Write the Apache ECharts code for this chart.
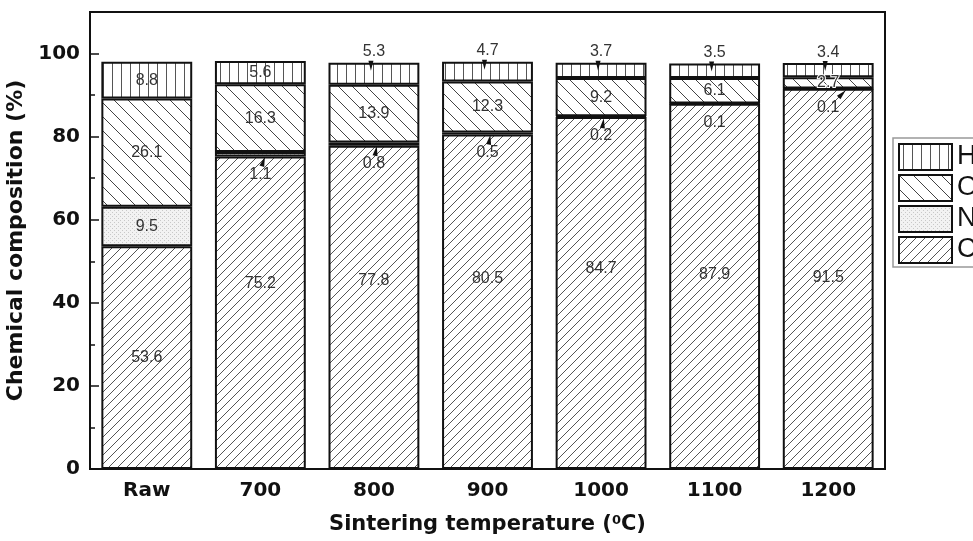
<!DOCTYPE html>
<html><head><meta charset="utf-8">
<script src="https://cdn.jsdelivr.net/npm/echarts@6/dist/echarts.min.js"></script>
<style>html,body{margin:0;padding:0;background:#fff}#c{width:973px;height:541px}</style>
</head><body><div id="c"></div>
<script>
// ---- data ----
const categories = ['Raw', '700', '800', '900', '1000', '1100', '1200'];
const C = [53.6, 75.2, 77.8, 80.5, 84.7, 87.9, 91.5];
const N = [9.5, 1.1, 0.8, 0.5, 0.2, 0.1, 0.1];
const O = [26.1, 16.3, 13.9, 12.3, 9.2, 6.1, 2.7];
const H = [8.8, 5.6, 5.3, 4.7, 3.7, 3.5, 3.4];
const yMax = 110, yStep = 20;

// ---- styling helpers ----
function pat(w, h, draw, bg) {
  const c = document.createElement('canvas'); c.width = w; c.height = h;
  const g = c.getContext('2d'); g.fillStyle = bg || '#fff'; g.fillRect(0, 0, w, h);
  draw(g, w, h); return { image: c, repeat: 'repeat' };
}
const patC = pat(9, 9, (g, w, h) => { g.strokeStyle = '#555'; g.lineWidth = 1; g.beginPath();
  g.moveTo(0, h); g.lineTo(w, 0); g.moveTo(-1, 1); g.lineTo(1, -1); g.moveTo(w - 1, h + 1); g.lineTo(w + 1, h - 1); g.stroke(); });
const patO = pat(14, 14, (g, w, h) => { g.strokeStyle = '#444'; g.lineWidth = 1; g.beginPath();
  g.moveTo(0, 0); g.lineTo(w, h); g.moveTo(-1, h - 1); g.lineTo(1, h + 1); g.moveTo(w - 1, -1); g.lineTo(w + 1, 1); g.stroke(); });
const patH = pat(9, 2, (g) => { g.fillStyle = '#555'; g.fillRect(4, 0, 1, 2); });
const patN = pat(4, 4, (g) => { g.fillStyle = '#c8c8c8'; g.fillRect(0, 0, 1, 1); g.fillRect(2, 2, 1, 1); }, '#f2f2f2');

const labelFont = { fontFamily: 'Liberation Sans, Arial', fontSize: 16, color: '#333', textBorderWidth: 0 };
const axisFont = { fontFamily: 'DejaVu Sans', fontWeight: 'bold', fontSize: 20, color: '#111' };
const border = { borderColor: '#111', borderWidth: 2 };

const cLabelDy = [0, -29, -27, -23, -24, -12, -1];
const cData = C.map((v, i) => ({ value: v, label: { offset: [0, cLabelDy[i]] } }));
const nData = N.map((v, i) => i === 0 ? { value: v } : { value: v, label: { position: 'bottom', distance: 10 } });
const oData = O.map((v, i) => i === 6 ? { value: v, label: { textBorderColor: '#fff', textBorderWidth: 2 } } : { value: v });
const hData = H.map((v, i) => i < 2 ? { value: v } : { value: v, label: { position: 'top', distance: 3 } });

const arrowPath = 'path://M5,0 L10,14 L0,14 Z';
const arrows = [];
[[1, 3, 5, -18], [2, 2, 5, -10], [3, 2, 5, -10], [4, 2, 6, -8], [6, 14, 5, -45]].forEach(([i, dx, dy, r]) => {
  arrows.push({ coord: [categories[i], C[i]], symbolOffset: [dx, dy], symbolRotate: r });
});
[2, 3, 4, 5, 6].forEach(i => {
  arrows.push({ coord: [categories[i], C[i] + N[i] + O[i] + H[i]], symbolOffset: [-3, 3], symbolRotate: 180 });
});

const mk = (name, data, color, z) => ({
  name, type: 'bar', stack: 'total', data, barWidth: '80%', z,
  itemStyle: Object.assign({ color }, border),
  label: Object.assign({ show: true, position: 'inside' }, labelFont),
  emphasis: { disabled: true }
});

const series = [mk('C', cData, patC, 2), mk('N', nData, patN, 3), mk('O', oData, patO, 4), mk('H', hData, patH, 3)];
series[3].markPoint = {
  symbol: arrowPath, symbolSize: [5, 10], silent: true, animation: false, z: 6,
  itemStyle: { color: '#111' }, label: { show: false }, data: arrows
};

const chart = echarts.init(document.getElementById('c'));
chart.setOption({
  animation: false,
  backgroundColor: '#fff',
  grid: { left: 90, top: 12, right: 88, bottom: 72, outerBoundsMode: 'none', containLabel: false,
    show: true, borderColor: '#111', borderWidth: 2, backgroundColor: 'transparent' },
  legend: {
    data: ['H', 'O', 'N', 'C'], orient: 'vertical', left: 893, top: 138,
    itemWidth: 53, itemHeight: 26, itemGap: 3, icon: 'rect',
    padding: [5, 40, 3, 5], borderColor: '#999', borderWidth: 1.5,
    textStyle: { fontFamily: 'Liberation Sans, Arial', fontSize: 27, color: '#111' },
    selectedMode: false
  },
  xAxis: [{
    type: 'category', data: categories, position: 'bottom',
    axisLine: { lineStyle: { color: '#111', width: 2 } },
    axisTick: { inside: true, alignWithLabel: true, length: 8, lineStyle: { color: '#111', width: 1.5 } },
    axisLabel: Object.assign({ margin: 12 }, axisFont),
    name: 'Sintering temperature ({s|0}C)', nameLocation: 'middle', nameGap: 45,
    nameTextStyle: { fontFamily: 'DejaVu Sans', fontWeight: 'bold', fontSize: 21, color: '#111',
      rich: { s: { fontFamily: 'DejaVu Sans', fontWeight: 'bold', fontSize: 13, color: '#111', verticalAlign: 'top', padding: [0, 0, 9, 0] } } }
  }, {
    type: 'category', data: categories, position: 'bottom', gridIndex: 0,
    axisLine: { show: false }, axisLabel: { show: false }, splitLine: { show: false },
    axisTick: { inside: true, length: 4, lineStyle: { color: '#111', width: 1.5 } }
  }],
  yAxis: [{
    type: 'value', min: 0, max: yMax, interval: yStep, position: 'left',
    axisLine: { show: true, lineStyle: { color: '#111', width: 2 } },
    axisTick: { show: true, inside: true, length: 9, lineStyle: { color: '#111', width: 1.5 } },
    splitLine: { show: false },
    axisLabel: Object.assign({ margin: 10, showMaxLabel: false }, axisFont),
    name: 'Chemical composition (%)', nameLocation: 'middle', nameGap: 52,
    nameTextStyle: { fontFamily: 'DejaVu Sans', fontWeight: 'bold', fontSize: 22, color: '#111' }
  }, {
    type: 'value', min: 0, max: yMax, interval: yStep / 2, position: 'left',
    axisLine: { show: false }, axisLabel: { show: false }, splitLine: { show: false },
    axisTick: { show: true, inside: true, length: 5, lineStyle: { color: '#111', width: 1.5 } }
  }],
  series
});
</script></body></html>
